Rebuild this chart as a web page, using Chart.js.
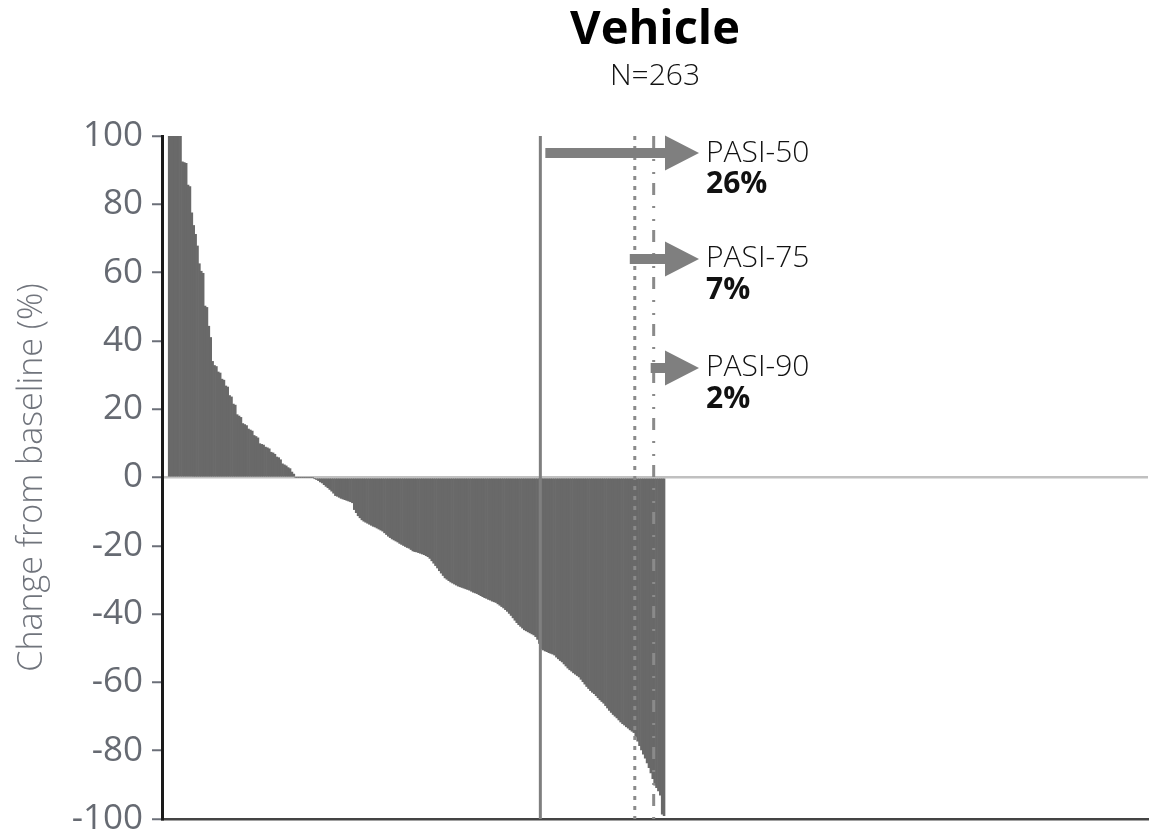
<!DOCTYPE html>
<html><head><meta charset="utf-8">
<script src="https://cdn.jsdelivr.net/npm/chart.js@4.4.0/dist/chart.umd.min.js"></script>
<style>html,body{margin:0;padding:0;background:#fff}canvas{display:block}</style>
</head><body>
<canvas id="c" width="1163" height="833"></canvas>
<script>
// ---- DATA ----
const chartTitle = 'Vehicle';
const chartSubtitle = 'N=263';
const yAxisTitle = 'Change from baseline (%)';
const yTickValues = [-100, -80, -60, -40, -20, 0, 20, 40, 60, 80, 100];
const pasiNames = ['PASI-50', 'PASI-75', 'PASI-90'];
const pasiRates = ['26%', '7%', '2%'];
const pasiThresholds = [-50, -75, -90];

// percent change from baseline per patient, sorted (263 patients)
const changeFromBaseline = [
  100, 100, 100, 100, 100, 100, 100, 92.4, 92.2, 92.0,
  85.6, 85.2, 77.5, 73.8, 71.2, 67.8, 62.6, 60.4, 59.8, 50.2,
  49.8, 44.3, 41.0, 34.0, 32.8, 32.5, 30.9, 30.6, 28.8, 28.5,
  26.8, 26.5, 24.0, 23.6, 21.5, 21.2, 18.4, 18.0, 17.6, 15.8,
  15.5, 15.2, 14.2, 13.9, 13.6, 12.3, 12.0, 11.6, 9.9, 9.7,
  9.5, 8.9, 8.7, 8.4, 7.4, 7.2, 6.8, 6.0, 5.8, 5.2,
  4.0, 3.7, 3.4, 2.9, 2.6, 1.6, 1.0, 0, 0, 0,
  0, 0, 0, 0, 0, 0, 0, -0.3, -0.6, -0.9,
  -1.3, -1.6, -2.1, -2.6, -3.0, -3.5, -4.0, -4.6, -5.3, -5.5,
  -5.8, -6.1, -6.3, -6.5, -6.7, -6.9, -7.1, -7.4, -9.4, -10.3,
  -11.2, -11.8, -12.4, -12.8, -13.1, -13.4, -13.7, -14.0, -14.3, -14.5,
  -14.8, -15.1, -15.4, -15.7, -16.2, -16.7, -17.2, -17.6, -18.0, -18.3,
  -18.6, -18.9, -19.3, -19.6, -19.9, -20.2, -20.5, -20.7, -21.1, -21.5,
  -21.7, -21.8, -22.0, -22.2, -22.4, -22.6, -22.9, -23.2, -23.7, -24.4,
  -25.1, -25.8, -26.5, -27.3, -28.0, -28.7, -29.4, -29.8, -30.2, -30.6,
  -30.9, -31.2, -31.5, -31.8, -32.0, -32.2, -32.4, -32.6, -32.8, -33.0,
  -33.3, -33.6, -33.8, -34.0, -34.3, -34.6, -34.9, -35.2, -35.4, -35.7,
  -35.9, -36.2, -36.4, -36.6, -37.0, -37.4, -37.8, -38.2, -38.7, -39.2,
  -39.8, -40.4, -41.1, -41.8, -42.5, -43.1, -43.6, -44.1, -44.6, -44.9,
  -45.2, -45.5, -45.8, -46.1, -46.6, -47.4, -48.6, -50.1, -50.5, -50.8,
  -51.0, -51.3, -51.5, -51.7, -52.0, -52.6, -53.1, -53.6, -54.0, -54.6,
  -55.2, -55.8, -56.3, -56.7, -57.2, -57.6, -58.0, -58.4, -59.1, -59.8,
  -60.5, -61.2, -61.8, -62.4, -62.9, -63.3, -63.9, -64.5, -65.1, -65.6,
  -66.1, -66.8, -67.5, -68.2, -68.8, -69.4, -69.9, -70.4, -71.0, -71.6,
  -72.1, -72.5, -73.0, -73.4, -73.9, -74.3, -74.7, -76.0, -77.2, -78.5,
  -79.8, -81.0, -82.2, -83.6, -85.0, -86.5, -88.2, -90.1, -90.8, -91.8,
  -93.0, -98.6, -99.0
];

// patient rank (x position of each bar)
const patientRank = changeFromBaseline.map((_, i) => i + 1);
// rank boundary where each PASI threshold is first reached
const pasiCutRank = pasiThresholds.map(t => changeFromBaseline.findIndex(v => v <= t) + 0.5);

// ---- STYLES ----
const FONT = "'Open Sans', 'Noto Sans', sans-serif";
const cutLineStyles = [
  { color: '#7f7f7f', dash: [] },
  { color: '#8a8a8a', dash: [4, 6] },
  { color: '#8a8a8a', dash: [12, 11, 2, 11, 2, 9] }
];
// arrow placements (y in data units, start offset in px from the cut line)
const arrowLayout = [
  { y: 95.0, startOffset: 5 },
  { y: 64.0, startOffset: -5 },
  { y: 32.1, startOffset: -3 }
];
const arrowTipRank = 281.5;

const pasiArrowPlugin = {
  id: 'pasiArrows',
  afterDatasetsDraw(chart) {
    const { ctx, scales: { x, y } } = chart;
    ctx.save();
    pasiNames.forEach((name, i) => {
      const lay = arrowLayout[i];
      const py = y.getPixelForValue(lay.y);
      const x0 = x.getPixelForValue(pasiCutRank[i]) + lay.startOffset;
      const tip = x.getPixelForValue(arrowTipRank);
      const headLen = 34, headHalf = 17.5, shaftHalf = 5;
      ctx.fillStyle = '#7f7f7f';
      ctx.beginPath();
      ctx.moveTo(x0, py - shaftHalf);
      ctx.lineTo(tip - headLen, py - shaftHalf);
      ctx.lineTo(tip - headLen, py - headHalf);
      ctx.lineTo(tip, py);
      ctx.lineTo(tip - headLen, py + headHalf);
      ctx.lineTo(tip - headLen, py + shaftHalf);
      ctx.lineTo(x0, py + shaftHalf);
      ctx.closePath();
      ctx.fill();
      ctx.fillStyle = '#111';
      ctx.textAlign = 'left';
      ctx.textBaseline = 'middle';
      ctx.font = `300 30px ${FONT}`;
      ctx.fillText(name, tip + 7, py);
      ctx.font = `700 30px ${FONT}`;
      ctx.fillText(pasiRates[i], tip + 7, py + 31.5);
    });
    ctx.restore();
  }
};

const datasets = [
  {
    type: 'bar',
    data: changeFromBaseline,
    backgroundColor: '#696969',
    borderWidth: 0,
    barPercentage: 1,
    categoryPercentage: 1,
    order: 2
  }
].concat(pasiCutRank.map((r, i) => ({
  type: 'line',
  data: [{ x: r, y: 100 }, { x: r, y: -100 }],
  borderColor: cutLineStyles[i].color,
  borderDash: cutLineStyles[i].dash,
  borderWidth: 3,
  pointRadius: 0,
  fill: false,
  order: 1
})));

new Chart(document.getElementById('c'), {
  type: 'bar',
  data: { labels: patientRank, datasets },
  options: {
    responsive: false,
    animation: false,
    events: [],
    layout: { padding: { left: 0, right: 15, top: 0, bottom: 14 } },
    plugins: {
      legend: { display: false },
      tooltip: { enabled: false },
      title: {
        display: true, text: chartTitle, fullSize: false, color: '#000',
        font: { family: FONT, size: 47, weight: 'bold', lineHeight: 1.2 },
        padding: { top: 2, bottom: 0 }
      },
      subtitle: {
        display: true, text: chartSubtitle, fullSize: false, color: '#111',
        font: { family: FONT, size: 30, weight: 300, lineHeight: 1.2 },
        padding: { top: 0, bottom: 41.6 }
      }
    },
    scales: {
      x: {
        type: 'linear', min: -2.8, max: 519.2, offset: false,
        grid: { display: false, drawTicks: false },
        ticks: { display: false },
        border: { display: true, color: '#444', width: 2.5 },
        afterFit: s => { s.height = 0; }
      },
      y: {
        min: -100, max: 100,
        afterBuildTicks: s => { s.ticks = yTickValues.map(v => ({ value: v })); },
        ticks: { color: '#666a72', padding: 9, font: { family: FONT, size: 35, weight: 'normal' } },
        grid: {
          drawOnChartArea: true,
          color: c => (c.tick && c.tick.value === 0) ? '#c0c0c0' : 'rgba(0,0,0,0)',
          lineWidth: 2.5,
          tickColor: '#6b6f78', tickLength: 10, tickWidth: 2
        },
        border: { display: true, color: '#1a1a1a', width: 3 },
        title: {
          display: true, text: yAxisTitle, color: '#70747c',
          font: { family: FONT, size: 34, weight: 300, lineHeight: 1.2 },
          padding: { top: 12, bottom: 0 }
        },
        afterFit: s => { s.width = 162; s.paddingTop = 0; s.paddingBottom = 0; }
      }
    }
  },
  plugins: [pasiArrowPlugin]
});
</script>
</body></html>
